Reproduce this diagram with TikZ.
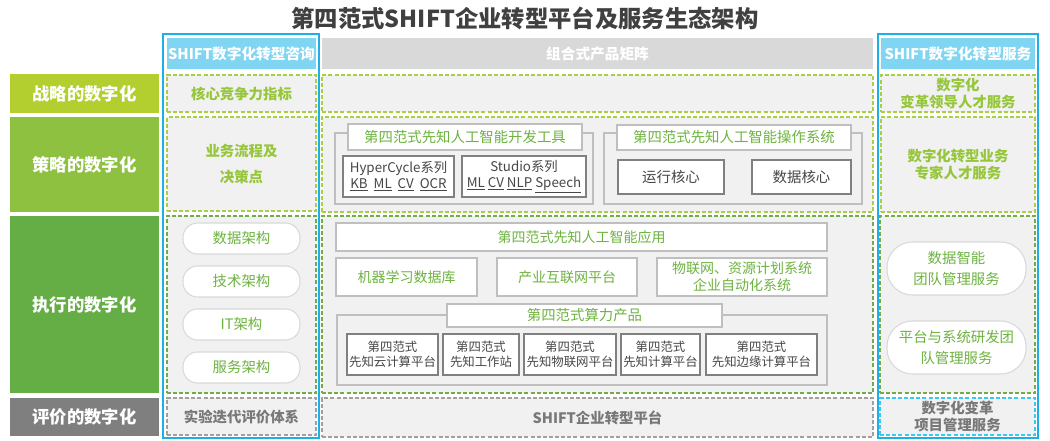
\documentclass[tikz,border=0pt]{standalone}
\usepackage{fontspec}
\setmainfont{Noto Sans CJK SC}

\definecolor{lvlA}{RGB}{179,207,47}
\definecolor{lvlB}{RGB}{141,193,63}
\definecolor{lvlC}{RGB}{101,173,69}
\definecolor{lvlD}{RGB}{127,127,127}
\definecolor{frameblue}{RGB}{28,176,230}
\definecolor{headblue}{RGB}{127,213,242}
\definecolor{headgray}{RGB}{217,217,217}
\definecolor{boxfill}{RGB}{241,241,241}
\definecolor{dashA}{RGB}{168,207,69}
\definecolor{dashC}{RGB}{112,173,71}
\definecolor{dashD}{RGB}{160,160,160}
\definecolor{dashE}{RGB}{60,200,240}
\definecolor{txtgreen}{RGB}{109,179,63}
\definecolor{txtbold}{RGB}{150,198,58}
\definecolor{txtgray}{RGB}{120,120,120}
\definecolor{txtdark}{RGB}{70,70,70}
\definecolor{titlec}{RGB}{64,64,64}

\begin{document}
\begin{tikzpicture}[
  x=0.75pt, y=-0.75pt,
  every node/.style={inner sep=0pt, align=center},
  cell/.style n args={4}{minimum width={(#3-#1)*0.75pt}, minimum height={(#4-#2)*0.75pt}, at={({(#1+#3)/2},{(#2+#4)/2})}},
  lvl/.style={text=white, font=\bfseries\fontsize{13}{15}\selectfont},
  frame/.style={draw=frameblue, line width=1pt},
  colhead/.style={fill=headblue, text=white, font=\bfseries\fontsize{11}{13}\selectfont},
  dbox/.style={fill=boxfill, dashed, dash pattern=on 3pt off 1.6pt, line width=0.8pt},
  kw/.style={text=txtbold, font=\bfseries\fontsize{10.8}{13}\selectfont},
  pill/.style={draw=black!15, fill=white, rounded corners=11pt, line width=0.8pt, text=txtgreen, font=\fontsize{10.8}{13}\selectfont},
  grp/.style={draw=black!25, line width=0.8pt},
  gtitle/.style={draw=black!25, fill=white, line width=0.8pt, text=txtgreen, font=\fontsize{10.8}{13}\selectfont},
  item/.style={draw=black!50, fill=white, line width=1pt, text=txtdark, font=\fontsize{10}{12}\selectfont},
  appbox/.style={draw=black!25, fill=white, line width=0.8pt, text=txtgreen, font=\fontsize{10.5}{13}\selectfont}
]
\useasboundingbox[fill=white] (0,0) rectangle (1050,441);

% title
\node[font=\bfseries\fontsize{17.5}{20}\selectfont, text=titlec] (title) at (525,18) {第四范式SHIFT企业转型平台及服务生态架构};

% levels
\node[lvl, fill=lvlA, cell={10}{74}{159}{113}] (strat) {战略的数字化};
\node[lvl, fill=lvlB, cell={10}{117}{159}{212}] (tact) {策略的数字化};
\node[lvl, fill=lvlC, cell={10}{216}{159}{393}] (exec) {执行的数字化};
\node[lvl, fill=lvlD, cell={10}{398}{159}{436}] (eval) {评价的数字化};

% consulting column
\node[frame, cell={163}{34}{319}{438}] (consult) {};
\node[colhead, cell={167}{38}{316}{69}] (chead) {SHIFT数字化转型咨询};
\node[dbox, draw=dashA, kw, cell={167}{75}{316}{112}] (core) {核心竞争力指标};
\node[dbox, draw=dashA, kw, font=\bfseries\fontsize{10.8}{19}\selectfont, cell={167}{117}{316}{211}] (flow) {业务流程及\\决策点};
\node[dbox, draw=dashC, cell={167}{216}{316}{393}] (arch) {};
\node[pill, cell={183}{223}{300}{254}] (darch) {数据架构};
\node[pill, cell={183}{266}{300}{297}] (tarch) {技术架构};
\node[pill, cell={183}{309}{300}{340}] (itarch) {IT架构};
\node[pill, cell={183}{352}{300}{383}] (sarch) {服务架构};
\node[dbox, draw=dashD, kw, text=txtgray, cell={167}{398}{316}{435}] (test) {实验迭代评价体系};

% product matrix
\node[colhead, fill=headgray, cell={322}{38}{873}{69}] (mhead) {组合式产品矩阵};
\node[dbox, draw=dashA, cell={322}{75}{873}{112}] (mrow) {};
\node[dbox, draw=dashA, cell={322}{117}{873}{212}] (trow) {};
\node[grp, cell={335}{133}{593}{204}] (devgrp) {};
\node[gtitle, cell={348}{124}{582}{150}] (devtitle) {第四范式先知人工智能开发工具};
\node[item, cell={343}{156}{454}{197}] (hyper) {HyperCycle系列\\\underline{KB}\ \ \underline{ML}\ \ \underline{CV}\ \ \underline{OCR}};
\node[item, cell={462}{156}{586}{197}] (studio) {Studio系列\\\underline{ML}\ \underline{CV}\ \underline{NLP}\ \underline{Speech}};
\node[grp, cell={604}{133}{862}{204}] (osgrp) {};
\node[gtitle, cell={617}{125}{851}{150}] (ostitle) {第四范式先知人工智能操作系统};
\node[item, font=\fontsize{10.8}{13}\selectfont, cell={618}{160}{724}{194}] (runcore) {运行核心};
\node[item, font=\fontsize{10.8}{13}\selectfont, cell={752}{160}{851}{194}] (datacore) {数据核心};

\node[dbox, draw=dashC, cell={322}{216}{873}{393}] (erow) {};
\node[appbox, cell={336}{223}{827}{251}] (aiapp) {第四范式先知人工智能应用};
\node[appbox, cell={336}{258}{477}{296}] (mldb) {机器学习数据库};
\node[appbox, cell={497}{258}{637}{296}] (iip) {产业互联网平台};
\node[appbox, font=\fontsize{10.5}{12.8}\selectfont, cell={657}{258}{827}{296}] (erp) {物联网、资源计划系统\\企业自动化系统};
\node[grp, cell={337}{315}{827}{385}] (cpgrp) {};
\node[gtitle, cell={447}{304}{722}{327}] (cptitle) {第四范式算力产品};
\node[item, font=\fontsize{9.3}{11.2}\selectfont, cell={347}{334}{438}{375}] (cloud) {第四范式\\先知云计算平台};
\node[item, font=\fontsize{9.3}{11.2}\selectfont, cell={443}{334}{519}{375}] (wks) {第四范式\\先知工作站};
\node[item, font=\fontsize{9.3}{11.2}\selectfont, cell={524}{334}{616}{375}] (iot) {第四范式\\先知物联网平台};
\node[item, font=\fontsize{9.3}{11.2}\selectfont, cell={621}{334}{700}{375}] (calc) {第四范式\\先知计算平台};
\node[item, font=\fontsize{9.3}{11.2}\selectfont, cell={706}{334}{817}{375}] (edge) {第四范式\\先知边缘计算平台};
\node[dbox, draw=dashD, kw, text=txtgray, cell={322}{398}{873}{437}] (shift) {SHIFT企业转型平台};

% service column
\node[frame, cell={878}{34}{1038}{438}] (service) {};
\node[colhead, cell={881}{38}{1035}{69}] (shead) {SHIFT数字化转型服务};
\node[dbox, draw=dashA, kw, font=\bfseries\fontsize{10.8}{12.8}\selectfont, cell={881}{75}{1035}{112}] (leader) {数字化\\变革领导人才服务};
\node[dbox, draw=dashA, kw, font=\bfseries\fontsize{10.8}{12.8}\selectfont, cell={881}{117}{1035}{212}] (expert) {数字化转型业务\\专家人才服务};
\node[dbox, draw=dashC, cell={880}{216}{1035}{393}] (teams) {};
\node[pill, rounded corners=19pt, font=\fontsize{10.8}{16}\selectfont, cell={887}{242}{1026}{295}] (diteam) {数据智能\\团队管理服务};
\node[pill, rounded corners=19pt, font=\fontsize{10.8}{16}\selectfont, cell={887}{321}{1026}{374}] (devteam) {平台与系统研发团\\队管理服务};
\node[dbox, draw=dashE, kw, text=txtgray, font=\bfseries\fontsize{10.8}{12.8}\selectfont, cell={880}{398}{1035}{435}] (pm) {数字化变革\\项目管理服务};
\end{tikzpicture}
\end{document}
